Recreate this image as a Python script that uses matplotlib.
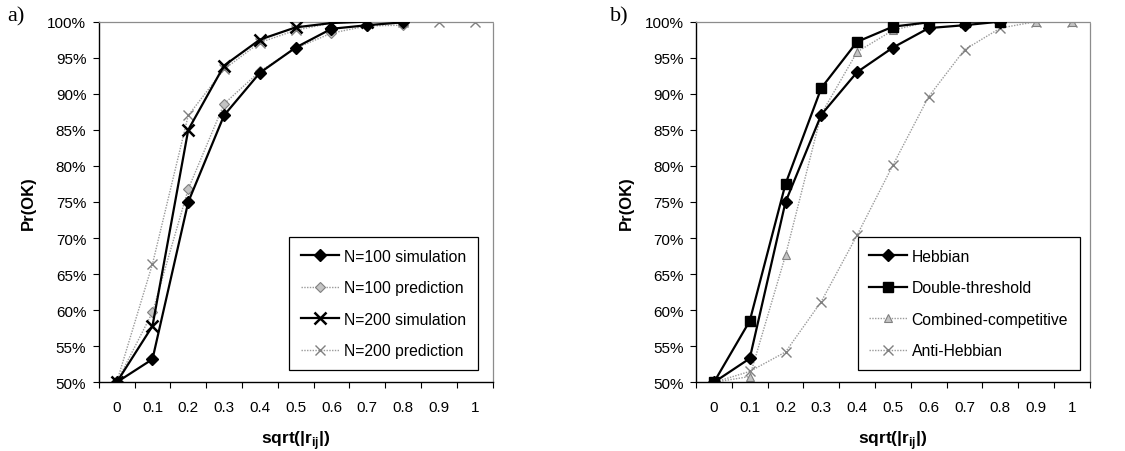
import matplotlib
matplotlib.use("Agg")
import matplotlib.pyplot as plt
from matplotlib.ticker import FuncFormatter

plt.rcParams['font.family'] = ['Liberation Sans', 'DejaVu Sans']
plt.rcParams['mathtext.fontset'] = 'custom'
plt.rcParams['mathtext.rm'] = 'Liberation Sans'
plt.rcParams['mathtext.bf'] = 'Liberation Sans:bold'

# x categories: sqrt(|r_ij|)
categories = ["0", "0.1", "0.2", "0.3", "0.4", "0.5", "0.6", "0.7", "0.8", "0.9", "1"]

# panel a) success probability (%)
n100_sim = [50, 53.2, 75.0, 87.0, 92.9, 96.4, 99.0, 99.5, 99.9]
n100_pred = [50, 59.7, 76.8, 88.6, 93.1, 96.3, 98.4, 99.4, 99.5]
n200_sim = [50, 57.8, 85.0, 93.9, 97.5, 99.2, 99.8, 100.0]
n200_pred = [50, 66.4, 87.0, 93.4, 97.1, 98.8, 99.8, 100, 100, 100, 100]

# panel b) success probability (%) per learning rule
hebbian = [50, 53.3, 75.0, 87.1, 93.0, 96.4, 99.1, 99.5, 100.0]
double_threshold = [50, 58.5, 77.5, 90.8, 97.2, 99.3, 99.9, 100, 100]
combined_competitive = [50, 50.8, 67.6, 87.2, 95.8, 98.8, 100, 99.9, 100, 100, 100]
anti_hebbian = [50, 51.5, 54.2, 61.2, 70.4, 80.1, 89.6, 96.1, 99.1, 100, 100]

yticks = [50, 55, 60, 65, 70, 75, 80, 85, 90, 95, 100]

GRAY_LINE = '#9a9a9a'
GRAY_FACE = '#c4c4c4'
GRAY_EDGE = '#808080'

TICK_FS = 11
LEGEND_FS = 11.3

black_line = dict(color='black', lw=1.6)
gray_line = dict(color=GRAY_LINE, lw=1.0, linestyle=(0, (1, 1)))

fig = plt.figure(figsize=(11.25, 4.52), dpi=100)
ax_a = fig.add_axes([0.0878, 0.152, 0.350, 0.798])
ax_b = fig.add_axes([0.6187, 0.152, 0.350, 0.798])


def style_axes(ax):
    n = len(categories)
    ax.set_xlim(-0.5, n - 0.5)
    ax.set_ylim(50, 100)
    ax.set_xticks([i - 0.5 for i in range(n + 1)])
    ax.set_xticklabels([])
    ax.set_xticks(range(n), minor=True)
    ax.set_xticklabels(categories, minor=True, fontsize=TICK_FS)
    ax.tick_params(axis='x', which='major', direction='out', length=4, width=0.8)
    ax.tick_params(axis='x', which='minor', length=0, pad=13)
    ax.set_yticks(yticks)
    ax.yaxis.set_major_formatter(FuncFormatter(lambda v, p: f"{v:.0f}%"))
    ax.tick_params(axis='y', direction='out', length=4, width=0.8, pad=5,
                   labelsize=TICK_FS)
    for s in ('left', 'bottom'):
        ax.spines[s].set_color('black')
        ax.spines[s].set_linewidth(1.0)
    for s in ('top', 'right'):
        ax.spines[s].set_color('#8c8c8c')
        ax.spines[s].set_linewidth(0.9)
        ax.spines[s].set_linestyle((0, (1, 1)))
    ax.set_ylabel('Pr(OK)', fontsize=12, fontweight='bold', labelpad=8)
    ax.set_xlabel(r'sqrt(|$\mathbf{r}_{\mathbf{ij}}$|)', fontsize=12.5,
                  fontweight='bold', labelpad=10)


def xs(vals):
    return list(range(len(vals)))


def add_legend(ax, order, right):
    h, l = ax.get_legend_handles_labels()
    leg = ax.legend([h[i] for i in order], [l[i] for i in order], loc='lower right',
                    bbox_to_anchor=(right, 0.034), fontsize=LEGEND_FS, frameon=True,
                    fancybox=False, edgecolor='black', framealpha=1,
                    labelspacing=1.05, handlelength=2.4, handletextpad=0.3,
                    borderpad=0.75, borderaxespad=0)
    leg.get_frame().set_linewidth(0.9)


# panel a
ax_a.plot(xs(n100_pred), n100_pred, marker='D', ms=5, mfc=GRAY_FACE, mec=GRAY_EDGE,
          mew=0.8, label='N=100 prediction', zorder=2, **gray_line)
ax_a.plot(xs(n200_pred), n200_pred, marker='x', ms=7, mec=GRAY_EDGE, mew=1.0,
          label='N=200 prediction', zorder=2, **gray_line)
ax_a.plot(xs(n100_sim), n100_sim, marker='D', ms=6, mfc='black', mec='black',
          label='N=100 simulation', zorder=3, **black_line)
ax_a.plot(xs(n200_sim), n200_sim, marker='x', ms=8, mec='black', mew=1.8,
          label='N=200 simulation', zorder=3, **black_line)
style_axes(ax_a)
add_legend(ax_a, [2, 0, 3, 1], 0.962)

# panel b
ax_b.plot(xs(anti_hebbian), anti_hebbian, marker='x', ms=7, mec=GRAY_EDGE, mew=1.0,
          label='Anti-Hebbian', zorder=2, **gray_line)
ax_b.plot(xs(combined_competitive), combined_competitive, marker='^', ms=6,
          mfc=GRAY_FACE, mec=GRAY_EDGE, mew=0.8, label='Combined-competitive',
          zorder=2, **gray_line)
ax_b.plot(xs(hebbian), hebbian, marker='D', ms=6, mfc='black', mec='black',
          label='Hebbian', zorder=3, **black_line)
ax_b.plot(xs(double_threshold), double_threshold, marker='s', ms=6.5, mfc='black',
          mec='black', label='Double-threshold', zorder=3, **black_line)
style_axes(ax_b)
add_legend(ax_b, [2, 3, 1, 0], 0.975)

# panel letters
fig.text(0.006, 0.962, 'a)', fontsize=16, family='Liberation Serif', va='center')
fig.text(0.542, 0.962, 'b)', fontsize=16, family='Liberation Serif', va='center')

fig.savefig('out.png', dpi=100, facecolor='white')
